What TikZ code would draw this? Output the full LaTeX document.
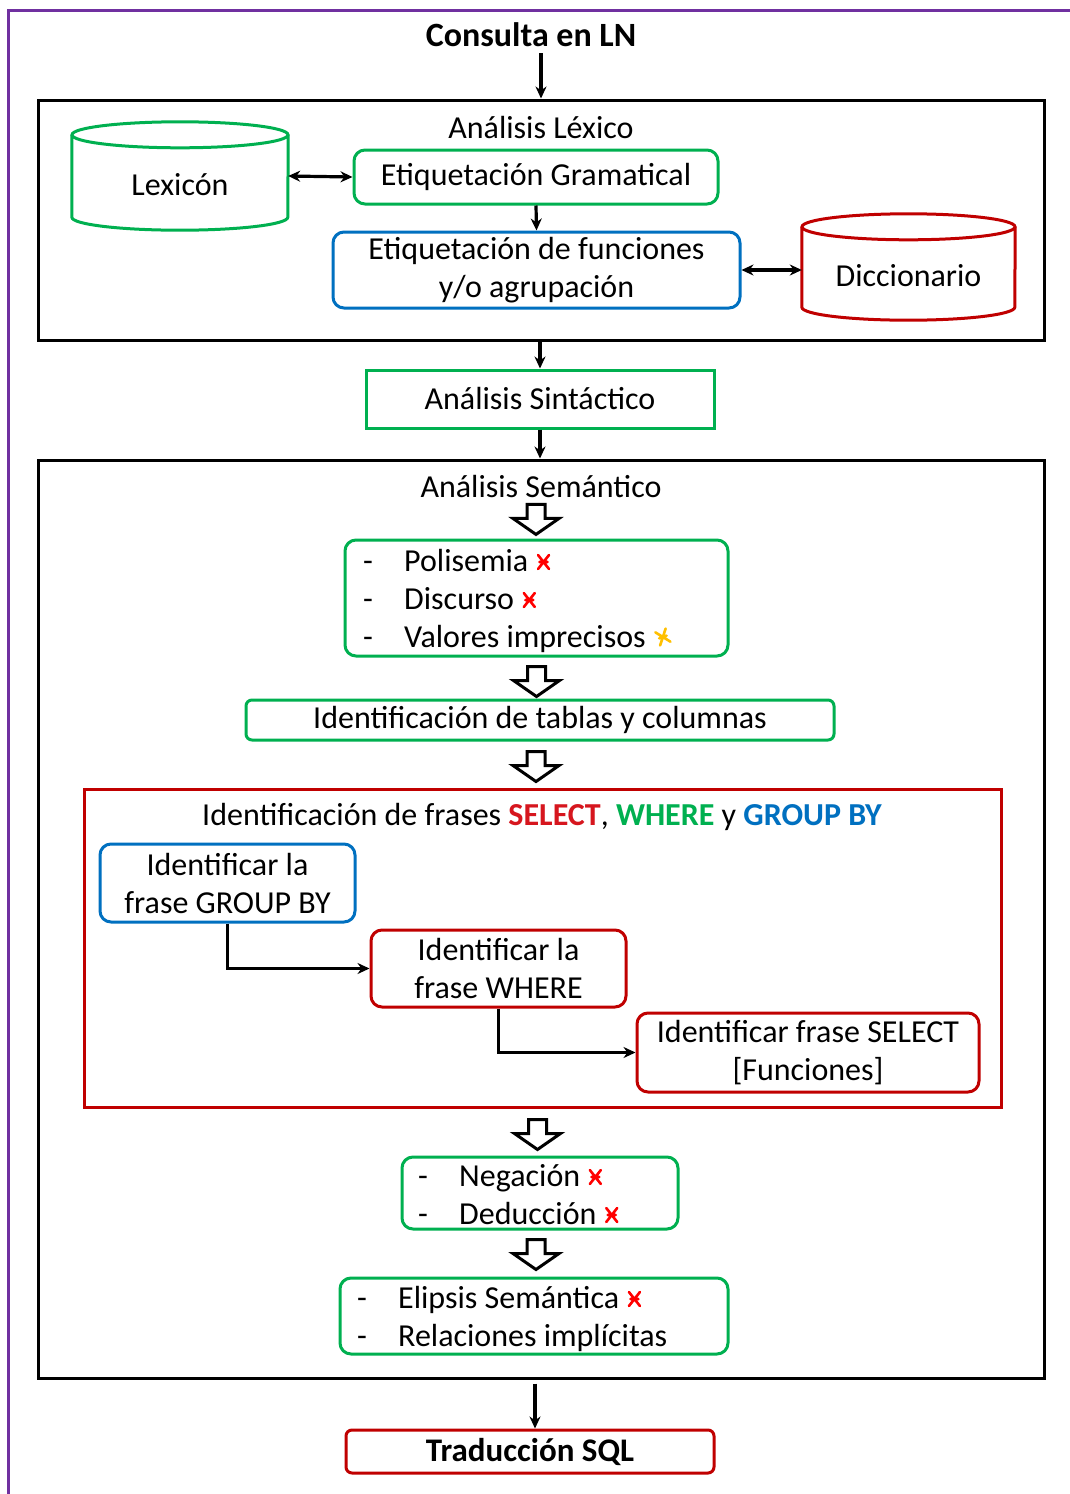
\documentclass[tikz,border=0pt]{standalone}
\usepackage{fontspec}
\setmainfont{Carlito}
\usetikzlibrary{arrows.meta,calc}
\definecolor{frameviolet}{RGB}{112,48,160}
\definecolor{okgreen}{RGB}{0,176,80}
\definecolor{okblue}{RGB}{0,112,192}
\definecolor{darkred}{RGB}{192,0,0}
\definecolor{kwred}{RGB}{214,22,30}
\definecolor{markred}{RGB}{255,0,0}
\definecolor{markyellow}{RGB}{255,192,0}
\begin{document}
\begin{tikzpicture}[x=1pt,y=-1pt,
  txt/.style={inner sep=0pt,font=\fontsize{32}{38}\selectfont,align=center},
  bold/.style={inner sep=0pt,font=\fontsize{34}{38}\selectfont\bfseries},
  frame/.style={draw=black,line width=3pt},
  gbox/.style={txt,draw=okgreen,line width=3pt,rounded corners=11pt},
  bbox/.style={txt,draw=okblue,line width=3pt,rounded corners=11pt},
  rbox/.style={txt,draw=darkred,line width=3pt,rounded corners=11pt},
  arr/.style={line width=3.2pt,-{Stealth[length=12pt,width=11pt]}},
  darr/.style={line width=3.2pt,{Stealth[length=12pt,width=11pt]}-{Stealth[length=12pt,width=11pt]}},
  hollow/.pic={\draw[line width=3pt,fill=white,line join=miter]
     (-9,0) -- (9,0) -- (9,14) -- (23,14) -- (0,30) -- (-23,14) -- (-9,14) -- cycle;},
  xmark/.pic={\draw[line width=2.6pt,#1,line cap=round]
     (-5.5,-7) -- (5.5,7) (-5.5,7) -- (5.5,-7) (-4,0) -- (4,0);},
]
\useasboundingbox (0,0) rectangle (1070,1494);
\fill[white] (0,0) rectangle (1070,1494);

% outer violet frame (top and left edges)
\draw[frameviolet,line width=3pt] (8,1494) -- (8,10) -- (1070,10);

% input
\node[bold] (consulta) at (531,35) {Consulta en LN};

% lexical analysis block
\node[frame,minimum width=1006,minimum height=240] (box1) at (541,220) {};
\node[txt] (lexlabel) at (541,128) {Análisis Léxico};
\node[gbox,minimum width=364,minimum height=54] (etig) at (536,177) {Etiquetación Gramatical};
\node[bbox,minimum width=407,minimum height=76] (funcs) at (536.5,270) {Etiquetación de funciones\\y/o agrupación};

% cylinders
\node[minimum width=216,minimum height=108,inner sep=0pt] (lex) at (180,176) {};
\draw[okgreen,line width=3pt]
  ($(lex.north west)+(0,13)$) -- ($(lex.south west)+(0,-13)$)
  arc[start angle=180,end angle=360,x radius=108pt,y radius=13pt]
  -- ($(lex.north east)+(0,13)$);
\draw[okgreen,line width=3pt] ($(lex.north)+(0,13)$) ellipse[x radius=108pt,y radius=13pt];
\node[txt] (lextext) at ($(lex.center)+(0,9)$) {Lexicón};

\node[minimum width=213,minimum height=106,inner sep=0pt] (dicc) at (908.5,267) {};
\draw[darkred,line width=3pt]
  ($(dicc.north west)+(0,13)$) -- ($(dicc.south west)+(0,-13)$)
  arc[start angle=180,end angle=360,x radius=106.5pt,y radius=13pt]
  -- ($(dicc.north east)+(0,13)$);
\draw[darkred,line width=3pt] ($(dicc.north)+(0,13)$) ellipse[x radius=106.5pt,y radius=13pt];
\node[txt] (dicctext) at ($(dicc.center)+(0,9)$) {Diccionario};

% syntactic analysis
\node[txt,draw=okgreen,line width=3pt,minimum width=348,minimum height=58] (sint) at (540,399) {Análisis Sintáctico};

% semantic analysis block
\node[frame,minimum width=1006,minimum height=918] (box2) at (541,919) {};
\node[txt] (semlabel) at (541,487) {Análisis Semántico};

\node[gbox,minimum width=383,minimum height=116] (sem1) at (536.5,598) {};
\node[txt,anchor=base] (d1) at (368,571) {-};
\node[txt,anchor=base] (d2) at (368,609) {-};
\node[txt,anchor=base] (d3) at (368,647) {-};
\node[txt,anchor=base west] (p1) at (404,571) {Polisemia};
\node[txt,anchor=base west] (p2) at (404,609) {Discurso};
\node[txt,anchor=base west] (p3) at (404,647) {Valores imprecisos};
\pic at ($(p1.base east)+(15,-9)$) {xmark=markred};
\pic at ($(p2.base east)+(15,-9)$) {xmark=markred};
\pic[rotate=20] at ($(p3.base east)+(17,-10)$) {xmark=markyellow};

\node[gbox,rounded corners=6pt,minimum width=588,minimum height=40] (tabla) at (540,720) {Identificación de tablas y columnas};

\node[draw=darkred,line width=3pt,minimum width=917,minimum height=318] (frases) at (542.5,948) {};
\node[txt] (fraseslabel) at (542,817) {Identificación de frases {\bfseries\color{kwred}SELECT}, {\bfseries\color{okgreen}WHERE} y {\bfseries\color{okblue}GROUP BY}};
\node[bbox,minimum width=255,minimum height=78] (gb) at (227.5,883) {Identificar la\\frase GROUP BY};
\node[rbox,minimum width=255,minimum height=77] (wh) at (498.5,968.5) {Identificar la\\frase WHERE};
\node[rbox,minimum width=342,minimum height=79] (sel) at (808,1052.5) {Identificar frase SELECT\\{}[Funciones]};

\node[gbox,minimum width=276,minimum height=72] (neg) at (540,1193) {};
\node[txt,anchor=base] (d4) at (423,1186) {-};
\node[txt,anchor=base] (d5) at (423,1224) {-};
\node[txt,anchor=base west] (n1) at (459,1186) {Negación};
\node[txt,anchor=base west] (n2) at (459,1224) {Deducción};
\pic at ($(n1.base east)+(15,-9)$) {xmark=markred};
\pic at ($(n2.base east)+(15,-9)$) {xmark=markred};

\node[gbox,minimum width=388,minimum height=76] (eli) at (534,1316) {};
\node[txt,anchor=base] (d6) at (362,1308) {-};
\node[txt,anchor=base] (d7) at (362,1346) {-};
\node[txt,anchor=base west] (e1) at (398,1308) {Elipsis Semántica};
\node[txt,anchor=base west] (e2) at (398,1346) {Relaciones implícitas};
\pic at ($(e1.base east)+(15,-9)$) {xmark=markred};

% output
\node[bold,font=\fontsize{33}{38}\selectfont\bfseries,draw=darkred,line width=3pt,rounded corners=6pt,minimum width=368,minimum height=43] (trad) at (530,1451.5) {Traducción SQL};

% connectors
\draw[arr] (box1.north |- consulta.south) ++(0,6) -- (box1.north);
\draw[darr] (lex.east) -- (etig.west);
\draw[arr] (etig.south) -- (funcs.north);
\draw[darr] (funcs.east) -- (funcs.east -| dicc.west);
\draw[arr] (sint.north |- box1.south) -- (sint.north);
\draw[arr] (sint.south) -- (sint.south |- box2.north);
\draw[arr] (gb.south) |- (wh.west);
\draw[arr] (wh.south) |- (sel.west);
\draw[arr] ([xshift=5pt]trad.north |- box2.south) ++(0,4) -- ([xshift=5pt]trad.north);

% block arrows between semantic stages
\pic at ($(semlabel.south)+(-5,6)$) {hollow};
\pic at ($(sem1.south)+(0,9)$) {hollow};
\pic at ($(tabla.south)+(-4,10)$) {hollow};
\pic at ($(frases.south)+(-5,11)$) {hollow};
\pic at ($(neg.south)+(-4,9)$) {hollow};
\end{tikzpicture}
\end{document}
